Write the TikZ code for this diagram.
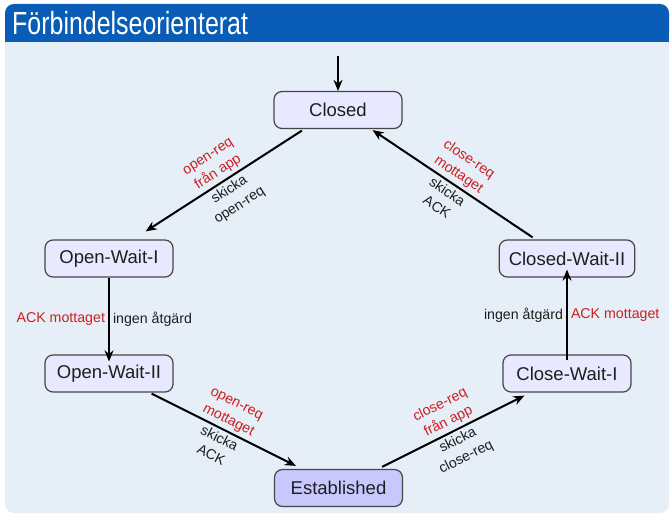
\documentclass[tikz,border=0pt]{standalone}
\usepackage{fontspec}
\setmainfont{Liberation Sans}
\newfontfamily\titlefont[FakeStretch=0.78]{Liberation Sans}
\usetikzlibrary{arrows.meta,calc}
\definecolor{barblue}{RGB}{10,93,183}
\definecolor{bodyblue}{RGB}{230,238,248}
\definecolor{statefill}{RGB}{232,232,255}
\definecolor{estfill}{RGB}{200,200,255}
\definecolor{stateborder}{RGB}{70,70,70}
\definecolor{alertred}{RGB}{204,32,32}
\definecolor{inktext}{RGB}{30,30,30}
\begin{document}
\begin{tikzpicture}[x=1pt,y=-1pt,
  state/.style={draw=stateborder, line width=1.2pt, fill=statefill, rounded corners=8pt,
    minimum width=128pt, minimum height=37pt, inner xsep=9.5pt,
    font=\fontsize{18.5}{22}\selectfont, text=inktext},
  trans/.style={line width=2pt, -{Stealth[length=11pt,width=9pt,inset=3.5pt]}},
  lbl/.style={font=\fontsize{14.2}{18.5}\selectfont, align=center, inner sep=3pt},
  cond/.style={lbl, text=alertred},
  act/.style={lbl, text=inktext}]
  \useasboundingbox (0,0) rectangle (672,516);
  % block frame: title bar and body
  \fill[bodyblue, rounded corners=9pt] (5,30) rectangle (669,513);
  \fill[barblue, rounded corners=9pt] (5,4) rectangle (669,42);
  \fill[barblue] (5,30) rectangle (669,42);
  \node[anchor=base west, inner sep=0pt, text=white, font=\titlefont\fontsize{32}{36}\selectfont]
    (title) at (12,35) {Förbindelseorienterat};

  % states
  \node[state] (closed) at (338,110) {Closed};
  \node[state] (owi)    at (109,258.5) {Open-Wait-I};
  \node[state] (owii)   at (109,373.5) {Open-Wait-II};
  \node[state, fill=estfill] (est) at (338.5,488) {Established};
  \node[state] (cwii)   at (567,258.5) {Closed-Wait-II};
  \node[state] (cwi)    at (567,373.5) {Close-Wait-I};

  % initial transition
  \coordinate (init) at (338,56);
  \draw[trans] (init) -- (closed.north);

  % transitions
  \draw[trans] ($(closed.south west)+(28.5,1.5)$) -- ($(owi.north east)+(-28,-8)$)
    node[cond, sloped, above, pos=0.5] {open-req\\från app}
    node[act, sloped, below, pos=0.5] {skicka\\open-req};

  \draw[trans] (owi.south) -- ([yshift=-7pt]owii.north)
    node[cond, left, pos=0.5] {ACK mottaget}
    node[act, right, pos=0.5] {ingen åtgärd};

  \draw[trans] ($(owii.south east)+(-22,1)$) -- ($(est.north west)+(22,-3)$)
    node[cond, sloped, above, pos=0.5] {open-req\\mottaget}
    node[act, sloped, below, pos=0.5] {skicka\\ACK};

  \draw[trans] ($(est.north east)+(-21,-2)$) -- ($(cwi.south west)+(22,3)$)
    node[cond, sloped, above, pos=0.5] {close-req\\från app}
    node[act, sloped, below, pos=0.5] {skicka\\close-req};

  \draw[trans] ([yshift=-6pt]cwi.north) -- ([yshift=8pt]cwii.south)
    node[act, left, pos=0.5] {ingen åtgärd}
    node[cond, right, pos=0.5] {ACK mottaget};

  \draw[trans] ($(cwii.north west)+(34,-2)$) -- ($(closed.south east)+(-30,1)$)
    node[cond, sloped, above, pos=0.5] {close-req\\mottaget}
    node[act, sloped, below, pos=0.5] {skicka\\ACK};
\end{tikzpicture}
\end{document}
